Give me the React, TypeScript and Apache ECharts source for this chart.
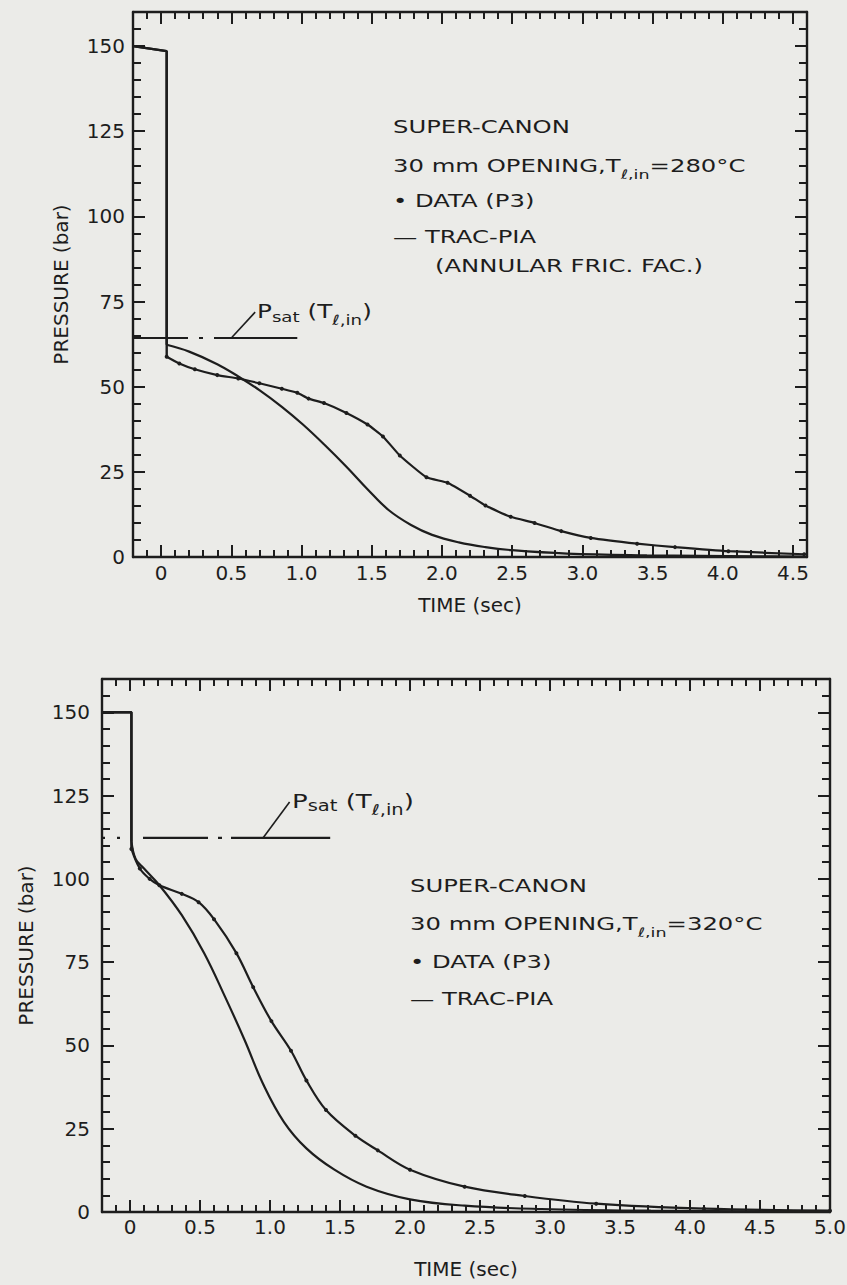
import React, { useEffect, useRef } from "react";
import * as echarts from "echarts";

// ---------------- data ----------------
// Upper chart: T_l,in = 280 °C
const topInitial: number[][] = [[-0.2, 150], [0.04, 148.5]];
const topDataP3: number[][] = [
  [0.04, 58.8], [0.13, 56.8], [0.24, 55.1], [0.4, 53.4], [0.55, 52.4], [0.7, 51.0],
  [0.86, 49.4], [0.97, 48.2], [1.05, 46.5], [1.16, 45.2], [1.32, 42.3], [1.47, 38.9],
  [1.58, 35.4], [1.7, 29.8], [1.89, 23.4], [2.04, 21.8], [2.2, 18.0], [2.31, 15.1],
  [2.49, 11.8], [2.66, 10.0], [2.85, 7.6], [3.06, 5.6], [3.39, 3.9], [3.66, 2.9],
  [4.04, 1.7], [4.58, 0.8],
];
const topTracPIA: number[][] = [
  [0.04, 62.3], [0.2, 60.3], [0.4, 56.6], [0.55, 53.0], [0.7, 49.0], [0.86, 44.1],
  [1.01, 38.9], [1.16, 33.1], [1.32, 26.5], [1.47, 19.9], [1.62, 13.8], [1.78, 9.4],
  [1.93, 6.5], [2.12, 4.3], [2.31, 2.9], [2.5, 2.0], [2.89, 1.0], [3.46, 0.5],
  [4.23, 0.2], [4.58, 0.1],
];
const topPsat = 64.3;
const topPsatEnd = 0.97;
const topLeader: number[][] = [[0.5, 64.3], [0.67, 71.9]];

// Lower chart: T_l,in = 320 °C
const botInitial: number[][] = [[-0.2, 150], [0.01, 150]];
const botDataP3: number[][] = [
  [0.01, 109.0], [0.07, 103.1], [0.14, 100.0], [0.21, 98.1], [0.37, 95.5], [0.49, 93.0],
  [0.6, 87.9], [0.76, 77.7], [0.88, 67.5], [1.01, 57.3], [1.15, 48.4], [1.26, 39.5],
  [1.4, 30.6], [1.61, 22.9], [1.77, 18.5], [2.0, 12.7], [2.39, 7.6], [2.82, 4.8],
  [3.33, 2.5], [4.1, 1.0], [5.0, 0.4],
];
const botTracPIA: number[][] = [
  [0.01, 111.4], [0.04, 106.0], [0.1, 103.1], [0.21, 98.1], [0.37, 89.1], [0.53, 77.7],
  [0.68, 64.5], [0.82, 51.5], [0.95, 38.5], [1.1, 27.0], [1.26, 19.1],
  [1.46, 12.7], [1.69, 7.6], [2.0, 3.8], [2.39, 1.9], [2.94, 0.9], [3.72, 0.4], [5.0, 0.1],
];
const botPsat = 112.3;
const botPsatEnd = 1.43;
const botLeader: number[][] = [[0.95, 112.3], [1.14, 123.1]];

// tick labels
const yLabels = [0, 25, 50, 75, 100, 125, 150];
const topXLabels = [0, 0.5, 1.0, 1.5, 2.0, 2.5, 3.0, 3.5, 4.0, 4.5];
const botXLabels = [0, 0.5, 1.0, 1.5, 2.0, 2.5, 3.0, 3.5, 4.0, 4.5, 5.0];
const Y_MAX = 160;
const TOP_X = [-0.2, 4.6];
const BOT_X = [-0.2, 5.0];

// ---------------- styling ----------------
const INK = "#1d1d1d";
const BG = "#ebebe8";
const FONT = '"DejaVu Sans", "Noto Sans", sans-serif';

const minorX = (lo: number, hi: number) => {
  const out: number[] = [];
  for (let i = Math.ceil(lo * 10); i <= Math.floor(hi * 10); i++) {
    if (i % 5 !== 0) out.push(i / 10);
  }
  return out;
};
const minorY = () => {
  const out: number[] = [];
  for (let v = 5; v < Y_MAX; v += 5) if (v % 25 !== 0) out.push(v);
  return out;
};
const majorTicks = (lo: number, hi: number) => {
  const out: number[] = [];
  for (let i = Math.ceil(lo * 2); i <= Math.floor(hi * 2); i++) out.push(i / 2);
  return out;
};

let measureCtx: CanvasRenderingContext2D | null = null;
function measure(text: string, size: number) {
  if (!measureCtx) measureCtx = document.createElement("canvas").getContext("2d");
  measureCtx!.font = `${size}px ${FONT}`;
  return measureCtx!.measureText(text).width;
}

type Part = { text: string; size: number; dy: number };
function textLine(parts: Part[], x: number, y: number, sx: number) {
  let cx = 0;
  const children: any[] = [];
  for (const p of parts) {
    children.push({
      type: "text",
      x: cx,
      y: p.dy,
      style: {
        text: p.text,
        fontSize: p.size,
        fontFamily: FONT,
        fill: INK,
        align: "left",
        verticalAlign: "middle",
        textAlign: "left",
        textVerticalAlign: "middle",
      },
    });
    cx += measure(p.text, p.size);
  }
  return { type: "group", x, y, scaleX: sx, children };
}

function buildAxes(
  g: number,
  xr: number[],
  xLabels: number[],
  labelMargin: number,
  nameGap: number,
  yNameGap: number,
  yLabelMargin: number
) {
  const line = { show: true, onZero: false, lineStyle: { color: INK, width: 2.4 } };
  const noLine = { show: false, onZero: false };
  const tickStyle = { color: INK, width: 2 };
  const labelStyle = { color: INK, fontSize: 20, fontFamily: FONT };
  const xMaj = majorTicks(xr[0], xr[1]);
  const xMin = minorX(xr[0], xr[1]);
  const yMin = minorY();
  const base = (gi: number) => ({ type: "value", gridIndex: gi, splitLine: { show: false } });
  const xAxes = [
    {
      ...base(g), position: "bottom", min: xr[0], max: xr[1], axisLine: line,
      axisTick: { show: true, inside: true, length: 12, customValues: xMaj, lineStyle: tickStyle },
      axisLabel: {
        show: true, customValues: xLabels, margin: labelMargin, ...labelStyle,
        formatter: (v: number) => (v === 0 ? "0" : v.toFixed(1)),
      },
      name: "TIME (sec)", nameLocation: "middle", nameGap,
      nameTextStyle: { ...labelStyle },
    },
    {
      ...base(g), position: "top", min: xr[0], max: xr[1], axisLine: line,
      axisTick: { show: true, inside: true, length: 12, customValues: xMaj, lineStyle: tickStyle },
      axisLabel: { show: false },
    },
    {
      ...base(g + 1), position: "bottom", min: xr[0], max: xr[1], axisLine: noLine,
      axisTick: { show: true, inside: true, length: 7, customValues: xMin, lineStyle: tickStyle },
      axisLabel: { show: false },
    },
    {
      ...base(g + 1), position: "top", min: xr[0], max: xr[1], axisLine: noLine,
      axisTick: { show: true, inside: true, length: 7, customValues: xMin, lineStyle: tickStyle },
      axisLabel: { show: false },
    },
  ];
  const yAxes = [
    {
      ...base(g), position: "left", min: 0, max: Y_MAX, axisLine: line,
      axisTick: { show: true, inside: true, length: 12, customValues: yLabels, lineStyle: tickStyle },
      axisLabel: { show: true, customValues: yLabels, margin: yLabelMargin, ...labelStyle },
      name: "PRESSURE (bar)", nameLocation: "middle", nameGap: yNameGap, nameRotate: 90,
      nameTextStyle: { ...labelStyle },
    },
    {
      ...base(g), position: "right", min: 0, max: Y_MAX, axisLine: line,
      axisTick: { show: true, inside: true, length: 12, customValues: yLabels, lineStyle: tickStyle },
      axisLabel: { show: false },
    },
    {
      ...base(g + 1), position: "left", min: 0, max: Y_MAX, axisLine: noLine,
      axisTick: { show: true, inside: true, length: 8, customValues: yMin, lineStyle: tickStyle },
      axisLabel: { show: false },
    },
    {
      ...base(g + 1), position: "right", min: 0, max: Y_MAX, axisLine: noLine,
      axisTick: { show: true, inside: true, length: 8, customValues: yMin, lineStyle: tickStyle },
      axisLabel: { show: false },
    },
  ];
  return { xAxes, yAxes };
}

function curveSeries(xi: number, yi: number, initial: number[][], data: number[][], trac: number[][], psat: number, psatEnd: number, xmin: number, leader: number[][], psatDash: number[], dataSmooth: number) {
  const common = { type: "line", xAxisIndex: xi, yAxisIndex: yi, silent: true, z: 3 };
  return [
    {
      ...common, name: "initial-data", data: [...initial, data[0]], showSymbol: false,
      lineStyle: { color: INK, width: 2.4 },
    },
    {
      ...common, name: "initial-trac", data: [...initial, trac[0]], showSymbol: false,
      lineStyle: { color: INK, width: 2.4 },
    },
    {
      ...common, name: "DATA (P3)", data, showSymbol: true, symbol: "circle", symbolSize: 4,
      smooth: dataSmooth,
      itemStyle: { color: INK }, lineStyle: { color: INK, width: 2.2 },
    },
    {
      ...common, name: "TRAC-PIA", data: trac, showSymbol: false, smooth: 0.4,
      lineStyle: { color: INK, width: 2.2 },
    },
    {
      ...common, name: "Psat", data: [[xmin, psat], [psatEnd, psat]], showSymbol: false,
      lineStyle: { color: INK, width: 2.2, type: psatDash, cap: "butt" },
    },
    {
      ...common, name: "Psat leader", data: leader, showSymbol: false,
      lineStyle: { color: INK, width: 1.6 },
    },
  ];
}

export default function App() {
  const ref = useRef<HTMLDivElement>(null);
  useEffect(() => {
    const chart = echarts.init(ref.current!, undefined, { renderer: "svg" });
    const topRect = { left: 133, top: 12, width: 674, height: 545 };
    const botRect = { left: 102, top: 679, width: 728, height: 533 };
    const grids = [topRect, topRect, botRect, botRect].map((r) => ({
      ...r, containLabel: false, outerBoundsMode: "none", show: false,
    }));
    const a0 = buildAxes(0, TOP_X, topXLabels, 6, 38, 62, 8);
    const a1 = buildAxes(2, BOT_X, botXLabels, 5, 47, 66, 12);
    const xAxis = [...a0.xAxes, ...a1.xAxes];
    const yAxis = [...a0.yAxes, ...a1.yAxes];

    const series = [
      ...curveSeries(0, 0, topInitial, topDataP3, topTracPIA, topPsat, topPsatEnd, TOP_X[0], topLeader, [55, 11, 4, 11, 400], 0.15),
      ...curveSeries(4, 4, botInitial, botDataP3, botTracPIA, botPsat, botPsatEnd, BOT_X[0], botLeader, [3, 12, 3, 23, 65, 10, 4, 9, 400], 0.35),
    ];

    const M = 18, S = 13;
    const graphic = [
      textLine([{ text: "SUPER-CANON", size: M, dy: 0 }], 393, 127, 1.35),
      textLine([
        { text: "30 mm OPENING,T", size: M, dy: 0 },
        { text: "ℓ,in", size: S, dy: 9 },
        { text: "=280°C", size: M, dy: 0 },
      ], 393, 166, 1.35),
      textLine([{ text: "• DATA (P3)", size: M, dy: 0 }], 393, 201, 1.35),
      textLine([{ text: "— TRAC-PIA", size: M, dy: 0 }], 393, 237, 1.35),
      textLine([{ text: "(ANNULAR FRIC. FAC.)", size: M, dy: 0 }], 435, 266, 1.35),
      textLine([
        { text: "P", size: 19, dy: 0 },
        { text: "sat", size: 14, dy: 5 },
        { text: " (T", size: 19, dy: 0 },
        { text: "ℓ,in", size: 14, dy: 8 },
        { text: ")", size: 19, dy: 0 },
      ], 257, 312, 1.3),

      textLine([{ text: "SUPER-CANON", size: M, dy: 0 }], 410, 886, 1.35),
      textLine([
        { text: "30 mm OPENING,T", size: M, dy: 0 },
        { text: "ℓ,in", size: S, dy: 9 },
        { text: "=320°C", size: M, dy: 0 },
      ], 410, 924, 1.35),
      textLine([{ text: "• DATA (P3)", size: M, dy: 0 }], 410, 962, 1.35),
      textLine([{ text: "— TRAC-PIA", size: M, dy: 0 }], 410, 999, 1.35),
      textLine([
        { text: "P", size: 20, dy: 0 },
        { text: "sat", size: 15, dy: 5 },
        { text: " (T", size: 20, dy: 0 },
        { text: "ℓ,in", size: 15, dy: 9 },
        { text: ")", size: 20, dy: 0 },
      ], 292, 801, 1.3),
    ];

    chart.setOption({
      animation: false,
      backgroundColor: BG,
      textStyle: { fontFamily: FONT, color: INK },
      grid: grids,
      xAxis,
      yAxis,
      series,
      graphic,
    });
    return () => chart.dispose();
  }, []);
  return (
    <div
      ref={ref}
      style={{ position: "fixed", left: 0, top: 0, width: 847, height: 1285, background: BG }}
    />
  );
}
